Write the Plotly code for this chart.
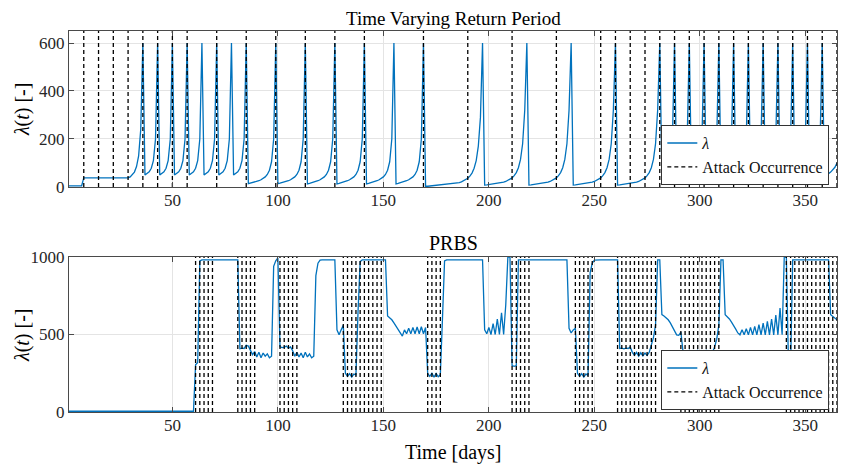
import plotly.graph_objects as go

days = list(range(1, 366))

# top panel: time varying return period, one value per day
lam_trp = [
    5, 5, 5, 5, 5, 5, 5,                                              # 1-7
    38, 38, 38, 38, 38, 38, 38, 38, 38, 38, 38,                       # 8-18
    38, 38, 38, 38, 38, 38, 38, 38, 38, 38, 38,                       # 19-29
    42, 50, 62, 85, 130, 240, 600,                                    # 30-36
    50, 55, 63, 78, 110, 200, 600,                                    # 37-43
    50, 55, 63, 78, 110, 200, 600,                                    # 44-50
    50, 55, 63, 78, 110, 200, 600,                                    # 51-57
    50, 55, 63, 78, 110, 200, 600,                                    # 58-64
    50, 55, 63, 78, 110, 200, 600,                                    # 65-71
    50, 55, 63, 78, 110, 200, 600,                                    # 72-78
    50, 55, 63, 78, 110, 200, 600,                                    # 79-85
    14, 16, 18, 20, 23, 26, 30, 35, 42, 52, 70, 105, 200, 600,        # 86-99
    14, 16, 18, 20, 23, 26, 30, 35, 42, 52, 70, 105, 200, 600,        # 100-113
    13, 15, 17, 20, 23, 26, 30, 35, 42, 52, 70, 105, 200, 600,        # 114-127
    13, 15, 17, 20, 23, 26, 30, 35, 42, 52, 70, 105, 200, 600,        # 128-141
    13, 15, 17, 20, 23, 26, 30, 35, 42, 52, 70, 105, 200, 600,        # 142-155
    13, 15, 17, 20, 23, 26, 30, 35, 42, 52, 70, 105, 200, 600,        # 156-169
    3, 3, 4, 4, 5, 5, 6, 6, 7, 8, 9, 10, 11, 12,                      # 170-183
    14, 16, 18, 21, 25, 30, 36, 45, 58, 78, 110, 170, 290, 600,       # 184-197
    8, 9, 10, 11, 12, 13, 14, 16, 18, 20, 23,
    27, 32, 38, 47, 60, 80, 115, 180, 320, 600,                       # 198-218
    8, 9, 10, 11, 12, 13, 14, 16, 18, 20, 23,
    27, 32, 38, 47, 60, 80, 115, 180, 320, 600,                       # 219-239
    8, 9, 10, 11, 12, 13, 14, 16, 18, 20, 23,
    27, 32, 38, 47, 60, 80, 115, 180, 320, 600,                       # 240-260
    8, 9, 10, 11, 12, 13, 14, 16, 18, 20, 23,
    27, 32, 38, 47, 60, 80, 115, 180, 320, 600,                       # 261-281
    50, 55, 63, 78, 110, 200, 600,                                    # 282-288
    50, 55, 63, 78, 110, 200, 600,                                    # 289-295
    50, 55, 63, 78, 110, 200, 600,                                    # 296-302
    50, 55, 63, 78, 110, 200, 600,                                    # 303-309
    50, 55, 63, 78, 110, 200, 600,                                    # 310-316
    50, 55, 63, 78, 110, 200, 600,                                    # 317-323
    50, 55, 63, 78, 110, 200, 600,                                    # 324-330
    50, 55, 63, 78, 110, 200, 600,                                    # 331-337
    50, 55, 63, 78, 110, 200, 600,                                    # 338-344
    50, 55, 63, 78, 110, 200, 600,                                    # 345-351
    50, 55, 63, 78, 110, 200, 600,                                    # 352-358
    50, 52, 56, 62, 70, 82, 100,                                      # 359-365
]

# bottom panel: PRBS, one value per day
lam_prbs = [
    5, 5, 5, 5, 5, 5, 5, 5, 5, 5,                                     # 1-10
    5, 5, 5, 5, 5, 5, 5, 5, 5, 5,                                     # 11-20
    5, 5, 5, 5, 5, 5, 5, 5, 5, 5,                                     # 21-30
    5, 5, 5, 5, 5, 5, 5, 5, 5, 5,                                     # 31-40
    5, 5, 5, 5, 5, 5, 5, 5, 5, 5,                                     # 41-50
    5, 5, 5, 5, 5, 5, 5, 5, 5, 5,                                     # 51-60
    305, 320, 975, 982, 982, 982, 982, 982, 982, 982,                 # 61-70
    982, 982, 982, 982, 982, 982, 982, 982, 982, 982,                 # 71-80
    982, 408, 412, 410, 430, 425, 395, 370, 390, 355,                 # 81-90
    385, 350, 380, 360, 375, 350, 360, 940, 975, 995,                 # 91-100
    420, 415, 418, 425, 412, 420, 395, 360, 385, 355,                 # 101-110
    380, 350, 385, 355, 375, 350, 360, 880, 960, 980,                 # 111-120
    982, 982, 982, 982, 982, 982, 982, 530, 498, 530,                 # 121-130
    560, 250, 230, 248, 225, 245, 240, 650, 970, 982,                 # 131-140
    982, 982, 982, 982, 982, 982, 982, 982, 982, 982,                 # 141-150
    982, 620, 608, 595, 575, 555, 535, 515, 490, 530,                 # 151-160
    505, 540, 505, 545, 505, 548, 505, 550, 505, 545,                 # 161-170
    250, 230, 250, 225, 248, 228, 240, 600, 975, 982,                 # 171-180
    982, 982, 982, 982, 982, 982, 982, 982, 982, 982,                 # 181-190
    982, 982, 982, 982, 982, 982, 982, 530, 505, 545,                 # 191-200
    500, 570, 500, 600, 500, 640, 500, 690, 1000, 1000,               # 201-210
    300, 295, 300, 982, 982, 982, 982, 982, 982, 982,                 # 211-220
    982, 982, 982, 982, 982, 982, 982, 982, 982, 982,                 # 221-230
    982, 982, 982, 982, 982, 982, 982, 540, 510, 530,                 # 231-240
    540, 250, 230, 248, 225, 245, 235, 900, 960, 980,                 # 241-250
    982, 982, 982, 982, 982, 982, 982, 982, 982, 982,                 # 251-260
    982, 410, 412, 408, 412, 410, 420, 385, 365, 385,                 # 261-270
    360, 382, 362, 380, 365, 385, 430, 480, 560, 982,                 # 271-280
    982, 628, 620, 608, 595, 575, 552, 525, 498, 495,                 # 281-290
    516, 391, 395, 382, 398, 380, 396, 382, 398, 380,                 # 291-300
    395, 383, 398, 380, 395, 385, 420, 470, 560, 982,                 # 301-310
    982, 628, 615, 600, 580, 560, 535, 510, 498, 531,                 # 311-320
    498, 537, 498, 546, 498, 553, 498, 563, 498, 574,                 # 321-330
    498, 585, 498, 600, 498, 625, 498, 671, 498, 1000,                # 331-340
    1000, 305, 300, 982, 982, 982, 982, 982, 982, 982,                # 341-350
    982, 982, 982, 982, 982, 982, 982, 982, 982, 982,                 # 351-360
    982, 628, 615, 605, 595,                                          # 361-365
]

attacks_trp = [8, 15, 22, 29, 36, 43, 50, 57, 71, 85, 99, 113, 127, 141,
               169, 190, 211, 232, 253, 260, 267, 274, 281, 288, 295, 302,
               309, 316, 323, 330, 337, 344, 351, 358, 365]

attacks_prbs = [61, 63, 65, 67, 69,
                81, 83, 85, 87, 89,
                101, 103, 105, 107, 109,
                131, 133, 135, 137, 139, 141, 143, 145, 147, 149,
                171, 173, 175, 177,
                211, 213, 215, 217, 219,
                241, 243, 245, 247, 249,
                261, 263, 265, 267, 269, 271, 273, 275, 277, 279,
                291, 293, 295, 297, 299, 301, 303, 305, 307, 309,
                341, 343, 345, 347, 349, 351, 353, 355, 357, 359, 361, 363, 365]

xticks = [50, 100, 150, 200, 250, 300, 350]
yticks_trp = [0, 200, 400, 600]
yticks_prbs = [0, 500, 1000]
YMAX_TRP = 650
YMAX_PRBS = 1000

assert len(lam_trp) == 365, len(lam_trp)
assert len(lam_prbs) == 365, len(lam_prbs)

FONT = "Liberation Serif"
BLUE = "#0072BD"
AX = "#4a4a4a"
GRID = "#e4e4e4"


def vlines(day_list, ymax):
    xs, ys = [], []
    for d in day_list:
        xs += [d, d, None]
        ys += [0, ymax, None]
    return xs, ys


fig = go.Figure()

fig.add_trace(go.Scatter(x=days, y=lam_trp, mode="lines", name="<i>λ</i>",
                         line=dict(color=BLUE, width=1.3), legend="legend"))
xs, ys = vlines(attacks_trp, YMAX_TRP)
fig.add_trace(go.Scatter(x=xs, y=ys, mode="lines", name="Attack Occurrence",
                         line=dict(color="black", width=1.3, dash="4px,3px"),
                         legend="legend"))

fig.add_trace(go.Scatter(x=days, y=lam_prbs, mode="lines", name="<i>λ</i>",
                         line=dict(color=BLUE, width=1.3),
                         xaxis="x2", yaxis="y2", legend="legend2"))
xs, ys = vlines(attacks_prbs, YMAX_PRBS)
fig.add_trace(go.Scatter(x=xs, y=ys, mode="lines", name="Attack Occurrence",
                         line=dict(color="black", width=1.3, dash="4px,3px"),
                         xaxis="x2", yaxis="y2", legend="legend2"))

axis_common = dict(
    showline=True, linecolor=AX, linewidth=1, mirror="ticks",
    ticks="inside", ticklen=5, tickcolor=AX,
    showgrid=True, gridcolor=GRID, gridwidth=1, zeroline=False,
    tickfont=dict(family=FONT, size=17, color="#262626"),
)

top_dom = [0.5906, 1.0]
bot_dom = [0.0, 0.4068]

legend_common = dict(
    xanchor="right", x=0.99, yanchor="bottom",
    bgcolor="white", bordercolor="#333333", borderwidth=1,
    font=dict(family=FONT, size=16, color="#111111"),
    itemwidth=30, tracegroupgap=0,
)

# the page body adds an 8 px offset, so the figure is 8 px smaller than the window
fig.update_layout(
    width=839, height=460,
    margin=dict(l=61, r=10, t=23, b=56),
    paper_bgcolor="white", plot_bgcolor="white",
    font=dict(family=FONT, color="#111111"),
    xaxis=dict(axis_common, domain=[0, 1], anchor="y", range=[1, 365], tickvals=xticks,
               ticklabelstandoff=-2),
    yaxis=dict(axis_common, domain=top_dom, anchor="x", range=[0, YMAX_TRP], tickvals=yticks_trp),
    xaxis2=dict(axis_common, domain=[0, 1], anchor="y2", range=[1, 365], tickvals=xticks,
                ticklabelstandoff=-2),
    yaxis2=dict(axis_common, domain=bot_dom, anchor="x2", range=[0, YMAX_PRBS], tickvals=yticks_prbs),
    legend=dict(legend_common, y=0.5955),
    legend2=dict(legend_common, y=0.005),
    showlegend=True,
    annotations=[
        dict(text="Time Varying Return Period", x=0.5, y=1.0, xref="paper", yref="paper",
             xanchor="center", yanchor="bottom", yshift=-0.5, showarrow=False,
             font=dict(family=FONT, size=19, color="black")),
        dict(text="PRBS", x=0.5, y=bot_dom[1], xref="paper", yref="paper",
             xanchor="center", yanchor="bottom", yshift=1, showarrow=False,
             font=dict(family=FONT, size=20, color="black")),
        dict(text="Time [days]", x=0.5, y=-0.105, xref="paper", yref="paper",
             xanchor="center", yanchor="middle", showarrow=False,
             font=dict(family=FONT, size=20, color="black")),
        dict(text="<i>λ</i>(<i>t</i>) [-]", x=-0.0612, y=0.795, xref="paper", yref="paper",
             xanchor="center", yanchor="middle", textangle=-90, showarrow=False,
             font=dict(family=FONT, size=20, color="black")),
        dict(text="<i>λ</i>(<i>t</i>) [-]", x=-0.0612, y=0.202, xref="paper", yref="paper",
             xanchor="center", yanchor="middle", textangle=-90, showarrow=False,
             font=dict(family=FONT, size=20, color="black")),
    ],
)

fig.write_html("out.html")
